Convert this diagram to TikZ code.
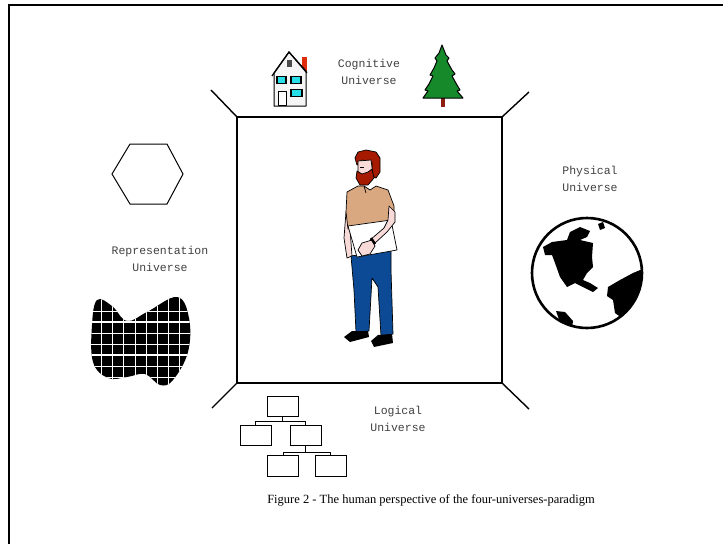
\documentclass[tikz,border=0pt]{standalone}
\usepackage{fontspec}
\setmainfont{Liberation Serif}
\setmonofont{Liberation Mono}
\usetikzlibrary{positioning}
\definecolor{shirt_color}{RGB}{218, 168, 128}
\definecolor{jeans_color}{RGB}{12, 74, 150}
\definecolor{hair_color}{RGB}{165, 26, 0}
\definecolor{skin_color}{RGB}{248, 218, 216}
\definecolor{tree_color}{RGB}{22, 138, 42}
\definecolor{trunk_color}{RGB}{140, 30, 20}
\definecolor{window_color}{RGB}{40, 222, 232}
\definecolor{chimney_color}{RGB}{222, 44, 10}
% outline of the gridded blob, used for the fill and for the clip
\newcommand{\blobshape}{plot[smooth cycle, tension=0.65] coordinates {
  (97,300) (112,306) (127,321) (147,312) (177,297) (189,318) (188,352)
  (173,380) (160,385) (145,374) (127,377) (108,378) (93,362) (92,325)}}

\begin{document}
\begin{tikzpicture}[x=1pt, y=-1pt,
    universe/.style={font=\ttfamily\fontsize{11.5}{17}\selectfont,
                     text=black!75, align=center, inner sep=0pt},
    wall/.style={line width=1.4pt},
    outline/.style={draw=black, line width=0.7pt, line join=round},
    chart/.style={draw, line width=1pt, minimum width=31pt,
                  minimum height=20pt, inner sep=0pt}]
    \useasboundingbox (0,0) rectangle (723,544);
    % page frame
    \draw[line width=2pt] (9,544) -- (9,5) -- (723,5);
    % the room around the person
    \coordinate (tl) at (237,117);
    \coordinate (tr) at (502,117);
    \coordinate (bl) at (237,383);
    \coordinate (br) at (502,383);
    \draw[wall] (tl) rectangle (br);
    \draw[wall] (tl) -- ++(-26,-27);
    \draw[wall] (tr) -- ++(27,-25);
    \draw[wall] (bl) -- ++(-25,25);
    \draw[wall] (br) -- ++(27,26);

    % labels
    \node[universe] (cognitive) at (369,72) {Cognitive\\Universe};
    \node[universe] (physical) at (590,179) {Physical\\Universe};
    \node[universe] (represent) at (160,259) {Representation\\Universe};
    \node[universe] (logical) at (398,419) {Logical\\Universe};
    \node[font=\fontsize{12.5}{15}\selectfont, inner sep=0pt] (caption)
      at (431,500) {Figure 2 - The human perspective of the four-universes-paradigm};

    % house
    \fill[chimney_color] (302,57) rectangle (307,72);
    \draw[outline, fill=gray!8, line width=1pt] (274,106) -- (274,73)
      -- (289,52) -- (306,71) -- (306,106) -- cycle;
    \draw[line width=1.3pt] (272,76) -- (289,52) -- (307,73);
    \fill[black!70] (287,60) rectangle (292,67);
    \fill[black] (276,76) rectangle (287,84);
    \fill[window_color] (278,77) rectangle (285,83);
    \fill[black] (290,76) rectangle (302,84);
    \fill[window_color] (292,77) rectangle (300,83);
    \draw[outline, fill=white] (278,91) rectangle (286,105);
    \fill[black] (290,89) rectangle (303,97);
    \fill[window_color] (292,90) rectangle (301,96);

    % tree
    \fill[trunk_color] (441,96) rectangle (445,107);
    \draw[outline, fill=tree_color, line width=1pt] (442,45) -- (446,55)
      -- (449,58) -- (447,61) -- (452,70) -- (455,74) -- (452,76)
      -- (457,85) -- (460,90) -- (457,91) -- (463,98) -- (423,98)
      -- (428,91) -- (425,90) -- (429,84) -- (433,76) -- (430,75)
      -- (434,68) -- (437,61) -- (435,58) -- (439,53) -- cycle;

    % hexagon
    \draw[line width=1pt] (112,174) -- (130,144) -- (167,144) -- (183,174)
      -- (167,204) -- (130,204) -- cycle;

    % gridded blob
    \fill[black] \blobshape;
    \begin{scope}
      \clip \blobshape;
      \foreach \x in {101,112,123,135,146,157,168,179}
        \draw[white, line width=0.7pt] (\x,290) -- (\x,390);
      \foreach \y in {311,333,344,366,377}
        \draw[white, line width=0.7pt] (85,\y) -- (195,\y);
      \foreach \y in {322,355}
        \draw[white, line width=1.4pt] (85,\y) -- (195,\y);
    \end{scope}

    % globe
    \coordinate (globe) at (587,273);
    \begin{scope}
      \clip (globe) circle (55);
      \fill[black] (543,247) -- (552,242) -- (567,240) -- (570,232)
        -- (580,227) -- (590,231) -- (587,237) -- (580,240) -- (593,243)
        -- (592,257) -- (593,267) -- (587,273) -- (583,280) -- (590,283)
        -- (598,288) -- (593,292) -- (583,287) -- (575,283) -- (567,287)
        -- (560,277) -- (555,263) -- (552,255) -- (545,255) -- cycle;
      \fill[black] (608,287) -- (620,280) -- (633,273) -- (645,268)
        -- (642,297) -- (627,310) -- (622,318) -- (615,313) -- (613,300)
        -- (607,296) -- cycle;
      \fill[black] (556,311) -- (565,312) -- (573,321) -- (572,328)
        -- (560,322) -- cycle;
      \fill[black] (598,224) -- (603,222) -- (605,228) -- (600,230) -- cycle;
    \end{scope}
    \draw[line width=2.6pt] (globe) circle (55);

    % person
    \draw[outline, fill=hair_color] (355,158) -- (358,152) -- (366,150)
      -- (376,152) -- (380,158) -- (380,172) -- (376,178) -- (372,176)
      -- (372,162) -- (362,160) -- (357,165) -- cycle;
    \draw[outline, fill=skin_color] (358,161) -- (371,160) -- (373,175)
      -- (366,180) -- (358,178) -- cycle;
    \draw[outline, fill=hair_color] (357,171) -- (362,174) -- (368,172)
      -- (372,169) -- (374,178) -- (368,185) -- (360,185) -- (356,178) -- cycle;
    \draw[line width=1pt] (360,167) -- (364,167);
    \draw[outline, fill=skin_color] (346,212) -- (350,229) -- (352,256)
      -- (347,258) -- (344,238) -- cycle;
    \draw[outline, fill=shirt_color] (347,192) -- (358,186) -- (364,186)
      -- (370,190) -- (376,186) -- (388,190) -- (394,206) -- (394,222)
      -- (375,226) -- (348,229) -- (346,212) -- cycle;
    \draw[outline] (364,186) -- (366,193);
    \draw[outline, fill=jeans_color] (351,256) -- (391,250) -- (391,270)
      -- (393,334) -- (381,336) -- (378,287) -- (372,278) -- (369,331)
      -- (356,332) -- (354,290) -- cycle;
    \draw[outline, fill=white] (348,226) -- (391,220) -- (397,250)
      -- (357,257) -- cycle;
    \draw[outline, fill=skin_color] (389,206) -- (395,212) -- (395,222)
      -- (387,232) -- (374,244) -- (370,240) -- (384,228) -- (388,220) -- cycle;
    \draw[outline, fill=skin_color] (362,243) -- (372,240) -- (375,246)
      -- (370,254) -- (362,256) -- (358,250) -- cycle;
    \draw[line width=2.4pt] (371,238) -- (375,244);
    \fill[black] (344,337) -- (352,331) -- (368,331) -- (369,337)
      -- (350,342) -- cycle;
    \fill[black] (371,341) -- (378,335) -- (392,334) -- (393,343)
      -- (374,347) -- cycle;

    % logical universe: hierarchy of boxes
    \node[chart] (root) at (282.5,406.5) {};
    \node[chart] (left) at (255.5,435.5) {};
    \node[chart] (right) at (305.5,435.5) {};
    \node[chart, minimum height=21pt] (leaf1) at (283,465.5) {};
    \node[chart, minimum height=21pt] (leaf2) at (330.5,465.5) {};
    \draw[line width=1pt] (root.south) -- ++(0,4) coordinate (fork1);
    \draw[line width=1pt] (fork1) -| (left.north);
    \draw[line width=1pt] (fork1) -| (right.north);
    \draw[line width=1pt] (right.south) -- ++(0,6.5) coordinate (fork2);
    \draw[line width=1pt] (fork2) -| (leaf1.north);
    \draw[line width=1pt] (fork2) -| (leaf2.north);
\end{tikzpicture}
\end{document}
